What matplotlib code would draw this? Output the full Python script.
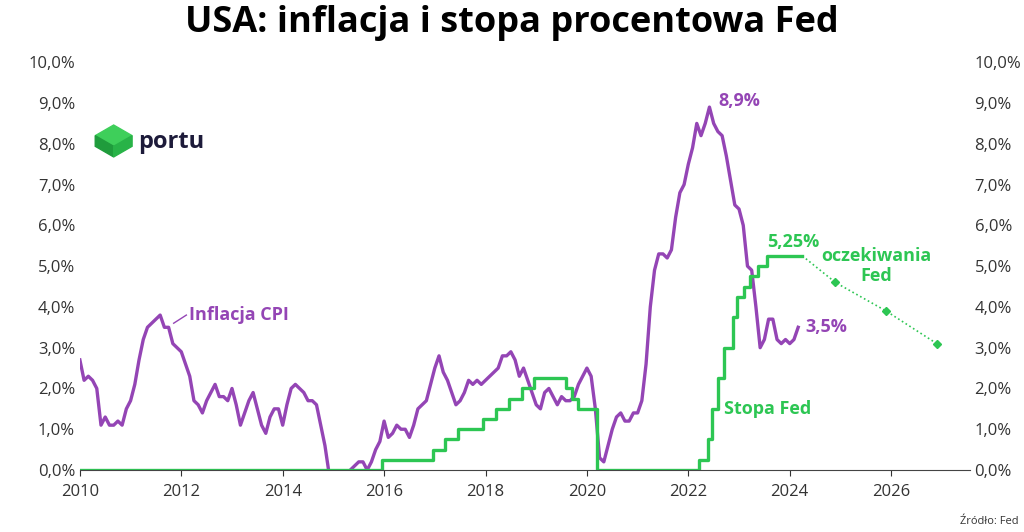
import matplotlib.pyplot as plt
import numpy as np
from matplotlib.ticker import FuncFormatter
from matplotlib.patches import Polygon

plt.rcParams['font.family'] = ['Open Sans', 'DejaVu Sans']

# monthly CPI y/y, Jan 2010 - Mar 2024
cpi = [2.7, 2.2, 2.3, 2.2, 2.0, 1.1, 1.3, 1.1, 1.1, 1.2, 1.1, 1.5,
       1.7, 2.1, 2.7, 3.2, 3.5, 3.6, 3.7, 3.8, 3.5, 3.5, 3.1, 3.0,
       2.9, 2.6, 2.3, 1.7, 1.6, 1.4, 1.7, 1.9, 2.1, 1.8, 1.8, 1.7,
       2.0, 1.6, 1.1, 1.4, 1.7, 1.9, 1.5, 1.1, 0.9, 1.3, 1.5, 1.5,
       1.1, 1.6, 2.0, 2.1, 2.0, 1.9, 1.7, 1.7, 1.6, 1.1, 0.6, -0.1,
       -0.2, -0.1, -0.1, -0.2, 0.0, 0.1, 0.2, 0.2, 0.0, 0.2, 0.5, 0.7,
       1.2, 0.8, 0.9, 1.1, 1.0, 1.0, 0.8, 1.1, 1.5, 1.6, 1.7, 2.1,
       2.5, 2.8, 2.4, 2.2, 1.9, 1.6, 1.7, 1.9, 2.2, 2.1, 2.2, 2.1,
       2.2, 2.3, 2.4, 2.5, 2.8, 2.8, 2.9, 2.7, 2.3, 2.5, 2.2, 1.9,
       1.6, 1.5, 1.9, 2.0, 1.8, 1.6, 1.8, 1.7, 1.7, 1.8, 2.1, 2.3,
       2.5, 2.3, 1.5, 0.3, 0.2, 0.6, 1.0, 1.3, 1.4, 1.2, 1.2, 1.4,
       1.4, 1.7, 2.6, 4.0, 4.9, 5.3, 5.3, 5.2, 5.4, 6.2, 6.8, 7.0,
       7.5, 7.9, 8.5, 8.2, 8.5, 8.9, 8.5, 8.3, 8.2, 7.7, 7.1, 6.5,
       6.4, 6.0, 5.0, 4.9, 4.0, 3.0, 3.2, 3.7, 3.7, 3.2, 3.1, 3.2,
       3.1, 3.2, 3.5]
cpi_x = 2010 + np.arange(len(cpi)) / 12

# Fed rate changes (year fraction, level)
fed_x = [2010.0, 2015.96, 2016.96, 2017.21, 2017.46, 2017.96, 2018.21, 2018.46,
         2018.71, 2018.96, 2019.58, 2019.71, 2019.83, 2020.2, 2022.21, 2022.38,
         2022.46, 2022.58, 2022.71, 2022.88, 2022.96, 2023.1, 2023.21, 2023.38,
         2023.55, 2024.25]
fed_y = [0.0, 0.25, 0.5, 0.75, 1.0, 1.25, 1.5, 1.75, 2.0, 2.25, 2.0, 1.75, 1.5,
         0.0, 0.25, 0.75, 1.5, 2.25, 3.0, 3.75, 4.25, 4.5, 4.75, 5.0, 5.25, 5.25]

exp_x = [2024.25, 2024.9, 2025.9, 2026.9]
exp_y = [5.25, 4.6, 3.9, 3.1]

purple = '#9445b5'
green = '#2dc653'

fig = plt.figure(figsize=(10.24, 5.32), dpi=100)
ax = fig.add_axes([0.078, 0.1165, 0.869, 0.7665])
ax.plot(cpi_x, cpi, color=purple, lw=2.4)
ax.step(fed_x, fed_y, where='post', color=green, lw=2.4)
ax.plot(exp_x, exp_y, color=green, lw=1.2, ls=':')
ax.plot(exp_x[1:], exp_y[1:], 'D', color=green, ms=4.5)

ax.set_xlim(2010, 2027.55)
ax.set_ylim(0, 10)
ax.set_xticks(range(2010, 2027, 2))
ax.set_yticks(np.arange(0, 10.1, 1))
fmt = FuncFormatter(lambda v, p: f"{v:.1f}%".replace('.', ','))
ax.yaxis.set_major_formatter(fmt)
ax2 = ax.twinx()
ax2.set_ylim(0, 10)
ax2.set_yticks(np.arange(0, 10.1, 1))
ax2.yaxis.set_major_formatter(fmt)
for a in (ax, ax2):
    for s in a.spines.values():
        s.set_visible(False)
    a.tick_params(length=0, labelsize=12, colors='#333333')
ax.spines['bottom'].set_visible(True)
ax.spines['bottom'].set_color('#444444')
ax.tick_params(axis='x', length=4, labelsize=12, pad=6)

fig.suptitle('USA: inflacja i stopa procentowa Fed', fontsize=26, fontweight='bold', y=0.99)

ax.text(2022.6, 9.05, '8,9%', color=purple, fontsize=13, fontweight='bold', va='center')
ax.text(2024.3, 3.5, '3,5%', color=purple, fontsize=13, fontweight='bold', va='center')
ax.plot([2011.85, 2012.1], [3.6, 3.8], color=purple, lw=1)
ax.text(2012.15, 3.8, 'Inflacja CPI', color=purple, fontsize=13, fontweight='bold', va='center')
ax.text(2023.55, 5.6, '5,25%', color=green, fontsize=13, fontweight='bold', va='center')
ax.text(2025.7, 5.0, 'oczekiwania\nFed', color=green, fontsize=13, fontweight='bold',
        va='center', ha='center', linespacing=1.1)
ax.text(2022.7, 1.5, 'Stopa Fed', color=green, fontsize=13, fontweight='bold', va='center')
fig.text(0.995, 0.01, 'Źródło: Fed', fontsize=8, ha='right', va='bottom', color='#333333')

# logo
fig.patches.append(Polygon([[0.093, 0.745], [0.111, 0.765], [0.129, 0.745], [0.111, 0.725]],
                           closed=True, transform=fig.transFigure, color='#3ecf5a'))
fig.patches.append(Polygon([[0.093, 0.745], [0.111, 0.725], [0.111, 0.705], [0.093, 0.725]],
                           closed=True, transform=fig.transFigure, color='#1f9c3c'))
fig.patches.append(Polygon([[0.111, 0.725], [0.129, 0.745], [0.129, 0.725], [0.111, 0.705]],
                           closed=True, transform=fig.transFigure, color='#28b347'))
fig.text(0.135, 0.733, 'portu', fontsize=17, fontweight='bold', color='#1d1b3a', va='center')

fig.savefig('out.png', dpi=100)
